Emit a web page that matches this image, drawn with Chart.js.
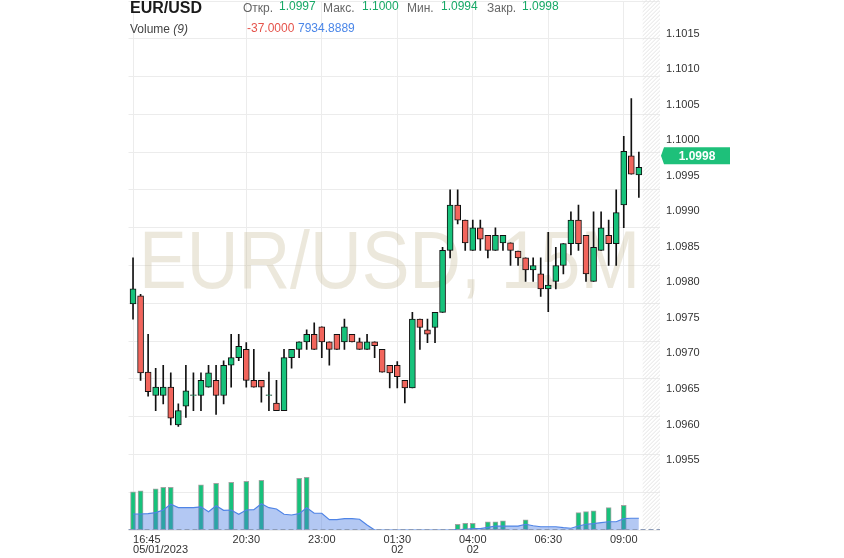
<!DOCTYPE html>
<html>
<head>
<meta charset="utf-8">
<script src="https://cdn.jsdelivr.net/npm/chart.js@4"></script>
<style>
  html, body { margin: 0; padding: 0; background: #fff; }
  #wrap { position: relative; width: 844px; height: 558px; font-family: "Liberation Sans", Arial, sans-serif; }
  #wrap span { position: absolute; white-space: nowrap; font-size: 12px; line-height: 12px; }
  .lbl { color: #666; }
  .up { color: #17a866; }
</style>
</head>
<body>
<div id="wrap">
  <canvas id="myChart" width="844" height="558"></canvas>
  <span style="left:130px;top:0px;font-size:16px;line-height:16px;font-weight:bold;color:#1a1a1a">EUR/USD</span>
  <span class="lbl" style="left:243px;top:2px">Откр.</span>
  <span class="up" style="left:279px;top:0px">1.0997</span>
  <span class="lbl" style="left:323px;top:2px">Макс.</span>
  <span class="up" style="left:362px;top:0px">1.1000</span>
  <span class="lbl" style="left:407px;top:2px">Мин.</span>
  <span class="up" style="left:441px;top:0px">1.0994</span>
  <span class="lbl" style="left:487px;top:2px">Закр.</span>
  <span class="up" style="left:522px;top:0px">1.0998</span>
  <span style="left:130px;top:23px;color:#444">Volume <i>(9)</i></span>
  <span style="left:247px;top:22px;color:#e5534b">-37.0000</span>
  <span style="left:298px;top:22px;color:#4a86e8">7934.8889</span>
</div>
<script>
// 15 min candles, 05/01/2023 16:45 -> 02 09:30
const opens  = [1.09799,1.09810,1.09709,1.09678,1.09678,1.09689,1.09639,1.09664,1.09678,1.09678,
                1.09689,1.09698,1.09678,1.09718,1.09728,1.09739,1.09698,1.09698,1.09678,1.09668,
                1.09658,1.09728,1.09739,1.09749,1.09759,1.09769,1.09749,1.09759,1.09749,1.09759,
                1.09749,1.09739,1.09749,1.09739,1.09718,1.09718,1.09698,1.09688,1.09779,1.09765,
                1.09768,1.09788,1.09870,1.09930,1.09910,1.09870,1.09900,1.09890,1.09870,1.09880,
                1.09880,1.09869,1.09860,1.09844,1.09839,1.09819,1.09829,1.09850,1.09879,1.09910,
                1.09890,1.09829,1.09870,1.09890,1.09879,1.09930,1.09995,1.09970];
const highs  = [1.09860,1.09812,1.09759,1.09714,1.09718,1.09708,1.09667,1.09718,1.09708,1.09708,
                1.09718,1.09718,1.09724,1.09759,1.09759,1.09748,1.09739,1.09698,1.09709,1.09698,
                1.09739,1.09739,1.09749,1.09765,1.09774,1.09769,1.09749,1.09759,1.09779,1.09759,
                1.09754,1.09759,1.09749,1.09739,1.09718,1.09723,1.09698,1.09788,1.09779,1.09779,
                1.09788,1.09874,1.09950,1.09950,1.09910,1.09910,1.09910,1.09890,1.09900,1.09890,
                1.09880,1.09869,1.09860,1.09860,1.09860,1.09894,1.09874,1.09879,1.09921,1.09930,
                1.09890,1.09921,1.09921,1.09910,1.09950,1.10021,1.10071,1.10000];
const lows   = [1.09779,1.09698,1.09677,1.09658,1.09667,1.09639,1.09637,1.09649,1.09658,1.09658,
                1.09689,1.09653,1.09667,1.09689,1.09724,1.09689,1.09689,1.09669,1.09658,1.09658,
                1.09658,1.09714,1.09728,1.09739,1.09739,1.09728,1.09718,1.09739,1.09739,1.09749,
                1.09739,1.09739,1.09728,1.09709,1.09688,1.09688,1.09668,1.09688,1.09739,1.09748,
                1.09748,1.09788,1.09860,1.09905,1.09870,1.09870,1.09870,1.09860,1.09870,1.09870,
                1.09850,1.09850,1.09829,1.09829,1.09809,1.09789,1.09819,1.09839,1.09864,1.09870,
                1.09829,1.09829,1.09870,1.09850,1.09850,1.09900,1.09971,1.09940];
const closes = [1.09819,1.09708,1.09683,1.09689,1.09689,1.09648,1.09658,1.09684,1.09679,1.09698,
                1.09708,1.09678,1.09718,1.09728,1.09743,1.09698,1.09689,1.09689,1.09679,1.09658,
                1.09728,1.09739,1.09749,1.09759,1.09739,1.09749,1.09739,1.09739,1.09769,1.09749,
                1.09739,1.09749,1.09744,1.09709,1.09708,1.09703,1.09688,1.09779,1.09768,1.09759,
                1.09788,1.09870,1.09930,1.09910,1.09880,1.09900,1.09885,1.09870,1.09890,1.09890,
                1.09870,1.09860,1.09844,1.09850,1.09819,1.09824,1.09850,1.09879,1.09910,1.09879,
                1.09839,1.09874,1.09900,1.09879,1.09920,1.10001,1.09971,1.09980];
const volumes = [26000,26700,0,28100,29000,29000,0,0,0,30800,
                 0,31800,0,32400,0,33100,0,33800,0,0,
                 0,0,35200,35800,0,0,0,0,0,0,
                 0,0,0,0,0,0,0,0,0,0,
                 0,0,0,3900,4600,4600,0,5600,5600,6300,
                 0,0,7000,0,0,0,0,0,0,11800,
                 12500,13100,0,15200,0,16800,0,0];
const volumeMA = [10900,10900,11200,11800,13600,17500,15200,15200,15200,15800,
                  12400,16500,13400,13600,10700,13600,13800,17900,15200,14300,
                  10700,10200,11100,15200,11400,11400,7000,7000,7700,7700,
                  7300,3400,0,0,0,0,0,0,0,0,
                  0,0,0,200,500,900,900,1800,2700,2700,
                  2700,2700,3900,2900,2200,2200,2200,1600,1200,2700,
                  3900,4300,5000,5600,5600,7700,8000,8000];
const xTickIdx = [0, 15, 25, 35, 45, 55, 65];
const xTickLabels = [['16:45', '05/01/2023'], '20:30', '23:00', ['01:30', '02'], ['04:00', '02'], '06:30', '09:00'];
const priceTicks = [1.0955, 1.0960, 1.0965, 1.0970, 1.0975, 1.0980, 1.0985, 1.0990, 1.0995, 1.1000, 1.1005, 1.1010, 1.1015];
const watermark = 'EUR/USD, 15M';

const GREEN = '#17c27b';
const RED = '#f2655c';
const FONT = '"Liberation Sans", Arial, sans-serif';

const bodies = opens.map((o, i) => ({ x: i, y: [o, closes[i]] }));
const wicks = opens.map((o, i) => ({ x: i, y: [lows[i], highs[i]] }));
const volBars = [];
volumes.forEach((v, i) => { if (v > 0) volBars.push({ x: i, y: v }); });
const maLine = volumeMA.map((v, i) => ({ x: i, y: v }));

// watermark, hatched future zone
const backdrop = {
  id: 'backdrop',
  beforeDatasetsDraw(chart) {
    const { ctx, chartArea: { left, right, bottom }, scales: { x } } = chart;
    ctx.save();
    ctx.font = '81px ' + FONT;
    ctx.fillStyle = 'rgba(200,190,155,0.35)';
    ctx.textBaseline = 'alphabetic';
    ctx.fillText(watermark, left + 10.5, 288, 501);

    const hx = x.getPixelForValue(opens.length - 0.5);
    ctx.beginPath();
    ctx.rect(hx, 0, right - hx, bottom);
    ctx.clip();
    ctx.beginPath();
    ctx.strokeStyle = '#e4e4e4';
    ctx.lineWidth = 1;
    for (let k = -bottom; k < right - hx + 4; k += 4) {
      ctx.moveTo(hx + k, bottom);
      ctx.lineTo(hx + k + bottom, 0);
    }
    ctx.stroke();
    ctx.restore();
  },
  afterDatasetsDraw(chart) {
    const { ctx, chartArea: { left, right }, scales: { yVol } } = chart;
    const y0 = Math.round(yVol.getPixelForValue(0)) - 0.5;
    ctx.save();
    ctx.strokeStyle = '#8d9cb8';
    ctx.setLineDash([5, 3]);
    ctx.beginPath();
    ctx.moveTo(left, y0);
    ctx.lineTo(right, y0);
    ctx.stroke();
    ctx.restore();
  }
};

// last price tag on the right axis
const priceTag = {
  id: 'priceTag',
  afterDraw(chart) {
    const { ctx, chartArea: { right }, scales: { yL } } = chart;
    const last = closes[closes.length - 1];
    const y = yL.getPixelForValue(last) + 1.5;
    ctx.save();
    ctx.fillStyle = '#1ec07a';
    ctx.beginPath();
    ctx.moveTo(right + 1, y);
    ctx.lineTo(right + 4, y - 8.5);
    ctx.lineTo(right + 70, y - 8.5);
    ctx.lineTo(right + 70, y + 8.5);
    ctx.lineTo(right + 4, y + 8.5);
    ctx.closePath();
    ctx.fill();
    ctx.fillStyle = '#fff';
    ctx.font = 'bold 12px ' + FONT;
    ctx.textAlign = 'center';
    ctx.textBaseline = 'middle';
    ctx.fillText(last.toFixed(4), right + 37, y + 0.5);
    ctx.restore();
  }
};

const config = {
  type: 'bar',
  data: {
    datasets: [
      {
        data: bodies,
        backgroundColor: opens.map((o, i) => closes[i] >= o ? GREEN : RED),
        borderColor: '#111',
        borderWidth: 1,
        borderSkipped: false,
        barThickness: 6,
        grouped: false,
        yAxisID: 'y',
        order: 0
      },
      {
        data: wicks,
        backgroundColor: '#111',
        borderWidth: 0,
        barThickness: 1,
        grouped: false,
        yAxisID: 'y',
        order: 1
      },
      {
        type: 'line',
        data: maLine,
        borderColor: '#4f84e6',
        borderWidth: 1.2,
        backgroundColor: 'rgba(74,124,226,0.42)',
        fill: 'origin',
        pointRadius: 0,
        tension: 0,
        yAxisID: 'yVol',
        order: 2
      },
      {
        data: volBars,
        backgroundColor: GREEN,
        borderColor: '#a3a3a3',
        borderWidth: 1,
        borderSkipped: false,
        barThickness: 5,
        grouped: false,
        yAxisID: 'yVol',
        order: 3
      }
    ]
  },
  options: {
    responsive: false,
    animation: false,
    layout: { padding: { top: 1, left: 128.5, right: 0, bottom: 0 } },
    plugins: { legend: { display: false }, tooltip: { enabled: false } },
    scales: {
      x: {
        type: 'linear',
        min: -0.6,
        max: 69.8,
        offset: false,
        border: { display: false },
        grid: {
          offset: false,
          drawTicks: false,
          color: (c) => c.index < xTickIdx.length ? '#ececec' : 'transparent'
        },
        afterBuildTicks: (scale) => {
          scale.ticks = xTickIdx.map(v => ({ value: v })).concat([{ value: scale.max }]);
        },
        afterFit: (scale) => {
          scale.height = 28;
          scale.paddingLeft = 0;
          scale.paddingRight = 0;
        },
        ticks: {
          autoSkip: false,
          maxRotation: 0,
          align: 'inner',
          padding: 5,
          color: '#333',
          font: { family: FONT, size: 11, lineHeight: 0.9 },
          callback: (v, i) => i < xTickLabels.length ? xTickLabels[i] : ''
        }
      },
      y: {
        position: 'right',
        min: 1.0950,
        max: 1.1020,
        border: { display: false },
        grid: { color: '#ececec', drawTicks: false },
        ticks: { display: false, stepSize: 0.0005 },
        afterFit: (scale) => {
          scale.width = 0;
          scale.paddingTop = 0;
          scale.paddingBottom = 0;
        }
      },
      yL: {
        position: 'right',
        min: 1.094517,
        max: 1.101957,
        border: { display: false },
        grid: { display: false, drawTicks: false },
        afterBuildTicks: (scale) => {
          scale.ticks = priceTicks.map(v => ({ value: v }));
        },
        afterFit: (scale) => {
          scale.width = 184;
          scale.paddingTop = 0;
          scale.paddingBottom = 0;
        },
        ticks: {
          padding: 6,
          color: '#333',
          font: { family: FONT, size: 11 },
          callback: (v) => Number(v).toFixed(4)
        }
      },
      yVol: {
        display: false,
        position: 'right',
        min: 0,
        max: 360000
      }
    }
  },
  plugins: [backdrop, priceTag]
};

const myChart = new Chart(document.getElementById('myChart'), config);
</script>
</body>
</html>
